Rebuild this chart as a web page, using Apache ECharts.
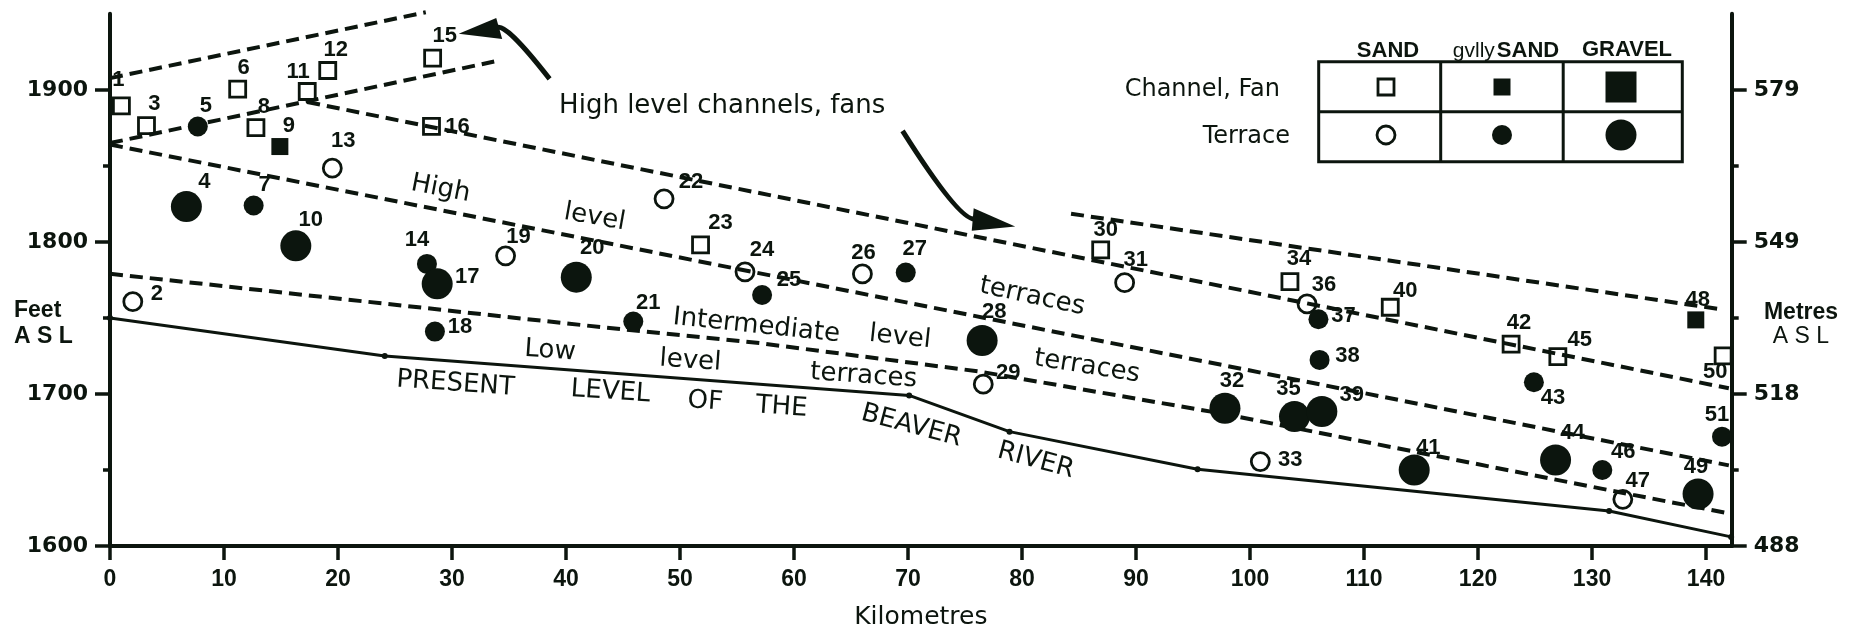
<!DOCTYPE html>
<html>
<head>
<meta charset="utf-8">
<script src="https://cdn.jsdelivr.net/npm/echarts@6/dist/echarts.min.js"></script>
<style>
  html, body { margin: 0; padding: 0; background: #ffffff; }
  #chart { width: 1853px; height: 628px; }
</style>
</head>
<body>
<div id="chart"></div>
<script>
// Sample sites along the Beaver River valley: [distance (km), elevation (ft), site number]
const channelSand = [[1.0,1889.5,1],[3.2,1876.5,3],[11.2,1900.5,6],[12.8,1875.2,8],[17.3,1898.9,11],
  [19.1,1912.7,12],[28.3,1920.9,15],[28.2,1875.9,16],[51.8,1798.0,23],[86.9,1794.7,30],[103.5,1773.9,34],
  [112.3,1757.0,40],[122.9,1732.7,42],[127.0,1724.5,45],[141.5,1725.0,50]];
const channelGvllySand = [[14.9,1862.7,9],[139.1,1748.7,48]];
const channelGravel = [];
const terraceSand = [[2.0,1760.7,2],[19.5,1848.5,13],[34.7,1790.8,19],[48.6,1828.3,22],[55.7,1780.3,24],
  [66.0,1778.9,26],[76.6,1706.4,29],[89.0,1773.2,31],[100.9,1655.5,33],[105.0,1759.2,36],[132.7,1630.7,47]];
const terraceGvllySand = [[7.7,1875.9,5],[12.6,1823.9,7],[27.8,1785.5,14],[28.5,1741.0,18],[45.9,1747.6,21],
  [57.2,1765.1,25],[69.8,1779.8,27],[106.0,1749.1,37],[106.1,1722.4,38],[124.9,1707.7,43],[130.9,1650.0,46],
  [141.4,1671.9,51]];
const terraceGravel = [[6.7,1823.2,4],[16.3,1797.4,10],[28.7,1772.4,17],[40.9,1776.8,20],[76.5,1735.1,28],
  [97.8,1690.6,32],[103.9,1685.1,35],[106.3,1688.4,39],[114.4,1650.0,41],[126.8,1656.6,44],[139.3,1634.2,49]];

// Present river profile and the interpreted terrace / fan boundaries: [km, ft]
const riverProfile = [[0,1750],[24.1,1725],[70.1,1699],[78.9,1675.2],[95.4,1650.5],[131.5,1623],[142.2,1606]];
const fanUpper = [[0,1907.7],[27.7,1951]];
const fanLower = [[0,1865],[33.7,1918.6]];
const highUpper = [[17.3,1892],[142,1703.7]];
const highUpperEast = [[84.3,1818.5],[141,1756]];
const highLower = [[0,1864],[142,1653]];
const intermediateLower = [[0,1779],[43,1744],[57,1733.4],[76.3,1714.7],[97.4,1687.3],[133.6,1633.6],[142,1621.5]];

// Axis ticks
const kmTicks = [0,10,20,30,40,50,60,70,80,90,100,110,120,130,140];
const feetTicks = [1600,1700,1800,1900];
const feetMinorTicks = [1650,1750,1850];

// Annotations written across the profile: [text, km, ft]
const notes = [
  ['High level channels, fans', 53.7, 1889.5],
  ['High', 29.0, 1834.9], ['level', 42.5, 1816.1], ['terraces', 80.9, 1764.0],
  ['Intermediate', 56.7, 1744.7], ['level', 69.3, 1737.2], ['terraces', 85.7, 1718.0],
  ['Low', 38.6, 1728.3], ['level', 50.9, 1721.7], ['terraces', 66.1, 1711.8],
  ['PRESENT', 30.3, 1706.6], ['LEVEL', 43.9, 1701.3], ['OF', 52.2, 1694.9], ['THE', 58.9, 1691.2],
  ['BEAVER', 70.3, 1678.9], ['RIVER', 81.2, 1656.1]
];
const noteTilt = [0, -11, -10, -12, -6, -6, -9, -4, -4, -4, -4, -4, -4, -4, -15, -15];

// Pointer arrows: [start, control, end, tip, barbA, barbB] as [km, ft]
const arrows = [
  [[38.56,1907.2],[34.65,1944.7],[33.95,1940.8],[30.59,1936.8],[33.88,1947.2],[34.40,1933.4]],
  [[69.52,1873.0],[74.56,1813.2],[75.88,1815.1],[79.40,1810.1],[75.76,1822.2],[75.59,1807.4]]
];

// Where each site number sits relative to its symbol (px)
const labelShift = {
  1:[-3,-26], 2:[24,-8], 3:[8,-22], 4:[18,-25], 5:[8,-21], 6:[6,-21], 7:[11,-21], 8:[8,-21], 9:[9,-21],
  10:[15,-26], 11:[-9,-20], 12:[8,-21], 13:[11,-27], 14:[-10,-24], 15:[12,-22], 16:[26,0], 17:[30,-7],
  18:[25,-5], 19:[13,-19], 20:[16,-29], 21:[15,-19], 22:[27,-17], 23:[20,-22], 24:[17,-22], 25:[27,-15],
  26:[1,-21], 27:[9,-24], 28:[12,-29], 29:[25,-11], 30:[5,-20], 31:[11,-23], 32:[7,-27], 33:[30,-2],
  34:[9,-23], 35:[-6,-28], 36:[17,-19], 37:[25,-3], 38:[28,-4], 39:[30,-17], 40:[15,-16], 41:[14,-22],
  42:[8,-21], 43:[19,16], 44:[17,-27], 45:[22,-17], 46:[21,-18], 47:[15,-18], 48:[2,-20], 49:[-2,-27],
  50:[-8,16], 51:[-5,-22]
};

const ink = '#0c150e';

// Symbol classes: material x landform
const classes = [
  { data: channelSand,      symbol: 'rect',   size: 16, filled: false, col: 0, row: 0 },
  { data: channelGvllySand, symbol: 'rect',   size: 17, filled: true,  col: 1, row: 0 },
  { data: channelGravel,    symbol: 'rect',   size: 31, filled: true,  col: 2, row: 0 },
  { data: terraceSand,      symbol: 'circle', size: 18, filled: false, col: 0, row: 1 },
  { data: terraceGvllySand, symbol: 'circle', size: 20, filled: true,  col: 1, row: 1 },
  { data: terraceGravel,    symbol: 'circle', size: 31, filled: true,  col: 2, row: 1 }
];

const chart = echarts.init(document.getElementById('chart'), null, { renderer: 'canvas' });

const dashStyle = { color: ink, width: 4, type: [13, 7] };
function boundary(data) {
  return { type: 'line', data: data, symbol: 'none', clip: false, z: 2,
           lineStyle: dashStyle, silent: true };
}

const siteSeries = classes.map(c => ({
  type: 'scatter',
  symbol: c.symbol,
  symbolSize: c.size,
  z: 5,
  itemStyle: c.filled
    ? { color: ink, opacity: 1 }
    : { color: 'rgba(0,0,0,0)', borderColor: ink, borderWidth: 2.8, opacity: 1 },
  label: {
    show: true, position: 'inside', align: 'center', verticalAlign: 'middle',
    formatter: p => String(p.value[2]),
    fontFamily: 'Liberation Sans', fontWeight: 'bold', fontSize: 22, color: ink, opacity: 1
  },
  data: c.data.map(d => ({ value: d, label: { offset: labelShift[d[2]] || [0, -20] } }))
}));

const noteSeries = {
  type: 'scatter', symbolSize: 0, z: 4, silent: true,
  itemStyle: { opacity: 1 },
  data: notes.map((n, i) => ({
    value: [n[1], n[2]], name: n[0],
    label: { rotate: noteTilt[i] }
  })),
  label: {
    show: true, position: 'inside', align: 'center', verticalAlign: 'middle',
    formatter: p => p.name,
    fontFamily: 'DejaVu Sans', fontSize: 26, color: ink, opacity: 1
  }
};

const arrowSeries = {
  type: 'custom', z: 4, silent: true, clip: false,
  data: arrows.map(a => a[0]),
  renderItem: function (params, api) {
    const p = arrows[params.dataIndex].map(pt => api.coord(pt));
    return {
      type: 'group',
      children: [
        { type: 'bezierCurve',
          shape: { x1: p[0][0], y1: p[0][1], cpx1: p[1][0], cpy1: p[1][1], x2: p[2][0], y2: p[2][1] },
          style: { stroke: ink, lineWidth: 5, fill: null } },
        { type: 'polygon', shape: { points: [p[3], p[4], p[5]] }, style: { fill: ink } }
      ]
    };
  }
};

// Legend table geometry
const legX = [1318.7, 1440.7, 1563.2, 1682.3];
const legY = [61.7, 111.7, 161.7];
const legCx = [1386, 1502, 1621];
const legCy = [87, 135];
const legendGraphics = [
  { type: 'rect', shape: { x: legX[0], y: legY[0], width: legX[3] - legX[0], height: legY[2] - legY[0] },
    style: { fill: null, stroke: ink, lineWidth: 3 } },
  { type: 'line', shape: { x1: legX[0], y1: legY[1], x2: legX[3], y2: legY[1] }, style: { stroke: ink, lineWidth: 3 } },
  { type: 'line', shape: { x1: legX[1], y1: legY[0], x2: legX[1], y2: legY[2] }, style: { stroke: ink, lineWidth: 3 } },
  { type: 'line', shape: { x1: legX[2], y1: legY[0], x2: legX[2], y2: legY[2] }, style: { stroke: ink, lineWidth: 3 } },
  { type: 'text', x: 1388, y: 51, style: { text: 'SAND', align: 'center', verticalAlign: 'middle',
      font: 'bold 22px "Liberation Sans"', fill: ink } },
  { type: 'text', x: 1506, y: 51, style: { text: '{a|gvlly}{b|SAND}', align: 'center', verticalAlign: 'middle',
      rich: { a: { font: '21px "Liberation Sans"', fill: ink, padding: [0, 2, 0, 0] },
              b: { font: 'bold 22px "Liberation Sans"', fill: ink } }, fill: ink } },
  { type: 'text', x: 1627, y: 50, style: { text: 'GRAVEL', align: 'center', verticalAlign: 'middle',
      font: 'bold 22px "Liberation Sans"', fill: ink } },
  { type: 'text', x: 1280, y: 90, style: { text: 'Channel, Fan', align: 'right', verticalAlign: 'middle',
      font: '24px "DejaVu Sans"', fill: ink } },
  { type: 'text', x: 1290, y: 137, style: { text: 'Terrace', align: 'right', verticalAlign: 'middle',
      font: '24px "DejaVu Sans"', fill: ink } }
];
classes.forEach(c => {
  const cx = legCx[c.col], cy = legCy[c.row], s = c.size;
  const style = c.filled ? { fill: ink } : { fill: null, stroke: ink, lineWidth: 2.8 };
  if (c.symbol === 'rect') {
    legendGraphics.push({ type: 'rect', shape: { x: cx - s / 2, y: cy - s / 2, width: s, height: s }, style: style });
  } else {
    legendGraphics.push({ type: 'circle', shape: { cx: cx, cy: cy, r: s / 2 }, style: style });
  }
});
// Axis titles
legendGraphics.push(
  { type: 'text', x: 14, y: 311, style: { text: 'Feet', align: 'left', verticalAlign: 'middle',
      font: 'bold 23px "Liberation Sans"', fill: ink } },
  { type: 'text', x: 14, y: 337, style: { text: 'A S L', align: 'left', verticalAlign: 'middle',
      font: 'bold 23px "Liberation Sans"', fill: ink } },
  { type: 'text', x: 1801, y: 313, style: { text: 'Metres', align: 'center', verticalAlign: 'middle',
      font: 'bold 23px "Liberation Sans"', fill: ink } },
  { type: 'text', x: 1801, y: 337, style: { text: 'A S L', align: 'center', verticalAlign: 'middle',
      font: '23px "Liberation Sans"', fill: ink } }
);

const axisLineStyle = { color: ink, width: 4 };
const tickLine = { color: ink, width: 3.5 };
const numFont = { fontFamily: 'DejaVu Sans', fontWeight: 'bold', fontSize: 22, color: ink };

function feetAxis(position, major, labels) {
  return {
    type: 'value', min: 1600, max: 1950, position: position,
    axisLine: { show: major, onZero: false, lineStyle: axisLineStyle },
    axisTick: { show: true, length: major ? 15 : 7, lineStyle: tickLine,
                customValues: major ? feetTicks : feetMinorTicks },
    axisLabel: labels ? Object.assign({ customValues: feetTicks, margin: 22, formatter: labels }, numFont)
                      : { show: false },
    splitLine: { show: false }
  };
}

chart.setOption({
  backgroundColor: '#ffffff',
  animation: false,
  grid: { left: 110, right: 121.3, top: 13.8, bottom: 82, containLabel: false, outerBoundsMode: 'none' },
  xAxis: {
    type: 'value', min: 0, max: 142.25,
    axisLine: { show: true, onZero: false, lineStyle: axisLineStyle },
    axisTick: { show: true, length: 14, lineStyle: tickLine, customValues: kmTicks },
    axisLabel: { customValues: kmTicks, margin: 22, fontFamily: 'Liberation Sans', fontWeight: 'bold',
                 fontSize: 23, color: ink },
    splitLine: { show: false },
    name: 'Kilometres', nameLocation: 'middle', nameGap: 59,
    nameTextStyle: { fontFamily: 'DejaVu Sans', fontSize: 25, color: ink }
  },
  yAxis: [
    feetAxis('left', true, v => String(v)),
    feetAxis('left', false, null),
    feetAxis('right', true, v => String(Math.round(v * 0.3048))),
    feetAxis('right', false, null)
  ],
  series: [
    boundary(fanUpper), boundary(fanLower), boundary(highUpper), boundary(highUpperEast),
    boundary(highLower), boundary(intermediateLower),
    { type: 'line', data: riverProfile, z: 3, clip: false, silent: true,
      symbol: 'circle', symbolSize: 6, showSymbol: true,
      itemStyle: { color: ink }, lineStyle: { color: ink, width: 3 } },
    noteSeries,
    arrowSeries
  ].concat(siteSeries),
  graphic: legendGraphics
});
</script>
</body>
</html>
